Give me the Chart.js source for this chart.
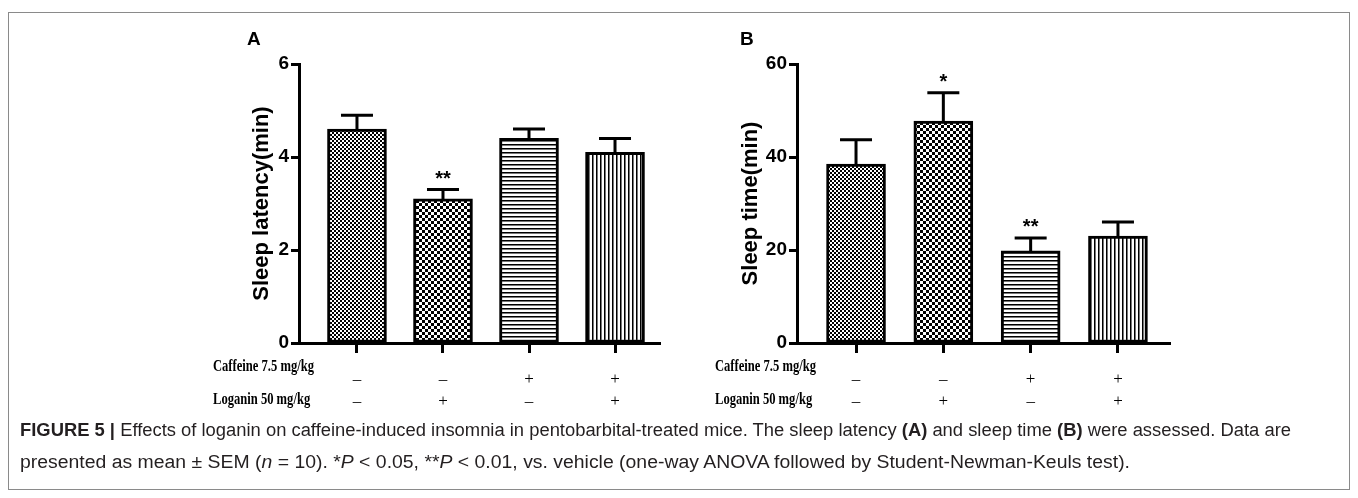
<!DOCTYPE html>
<html>
<head>
<meta charset="utf-8">
<script src="https://cdn.jsdelivr.net/npm/chart.js@4.4.1/dist/chart.umd.min.js"></script>
<style>
  body { margin:0; background:#fff; width:1358px; height:498px; overflow:hidden; position:relative; }
  #frame { position:absolute; left:8px; top:12px; width:1342px; height:478px; border:1px solid #8a8a8a; box-sizing:border-box; }
  canvas { position:absolute; }
  #cA { left:200px; top:20px; }
  #cB { left:698px; top:20px; }
  #caption { position:absolute; left:20px; top:414px; font-family:"Liberation Sans",Arial,sans-serif; font-size:18px; line-height:32px; color:#231f20; white-space:nowrap; }
  #caption span { display:inline-block; transform-origin:0 50%; }
  #caption b { font-weight:bold; }
</style>
</head>
<body>
<div id="frame"></div>
<canvas id="cA" width="470" height="400"></canvas>
<canvas id="cB" width="480" height="400"></canvas>
<div id="caption"><span id="cap1"><b>FIGURE 5 |</b> Effects of loganin on caffeine-induced insomnia in pentobarbital-treated mice. The sleep latency <b>(A)</b> and sleep time <b>(B)</b> were assessed. Data are</span><br><span id="cap2">presented as mean ± SEM (<i>n</i> = 10). *<i>P</i> &lt; 0.05, **<i>P</i> &lt; 0.01, vs. vehicle (one-way ANOVA followed by Student-Newman-Keuls test).</span></div>
<script>
// groups: vehicle, loganin, caffeine, caffeine + loganin
let groups = ["Vehicle","Loganin","Caffeine","Caffeine+Loganin"];
let caffeineRow = ["–","–","+","+"];
let loganinRow  = ["–","+","–","+"];

let latencyMean = [4.6, 3.1, 4.4, 4.1];
let latencySem  = [0.3, 0.2, 0.2, 0.3];
let latencyStars = ["", "**", "", ""];
let latencyTicks = [0, 2, 4, 6];

let sleepMean = [38.5, 47.7, 19.8, 23.0];
let sleepSem  = [5.2, 6.1, 2.8, 3.0];
let sleepStars = ["", "*", "**", ""];
let sleepTicks = [0, 20, 40, 60];

// condensed caption font: squeeze each line to its width in the figure
function squeeze(id, w){
  let el = document.getElementById(id);
  el.style.transform = "scaleX(" + (w / el.getBoundingClientRect().width) + ")";
}
squeeze("cap1", 1271);
squeeze("cap2", 1110);

function makePattern(size, draw){
  let c = document.createElement("canvas");
  c.width = size; c.height = size;
  let g = c.getContext("2d");
  g.fillStyle = "#fff"; g.fillRect(0,0,size,size);
  g.fillStyle = "#000";
  draw(g, size);
  return document.createElement("canvas").getContext("2d").createPattern(c, "repeat");
}

let fills = [
  makePattern(4, (g)=>{ g.fillRect(0,0,2,2); g.fillRect(2,2,2,2); }),
  makePattern(6, (g)=>{ g.fillRect(0,0,3,3); g.fillRect(3,3,3,3); }),
  makePattern(4, (g)=>{ g.fillRect(0,0,4,1); g.fillStyle="#777"; g.fillRect(0,1,4,1); }),
  makePattern(4, (g)=>{ g.fillRect(0,0,1,4); g.fillStyle="#777"; g.fillRect(1,0,1,4); })
];

function extrasPlugin(p){
  return {
    id: "extras",
    afterDatasetsDraw(chart){
      let ctx = chart.ctx, xs = chart.scales.x, ys = chart.scales.y, a = chart.chartArea;
      ctx.save();
      // error bars
      ctx.strokeStyle = "#000"; ctx.lineWidth = 3; ctx.lineCap = "butt";
      p.mean.forEach((m,i)=>{
        let x = xs.getPixelForValue(i);
        let y0 = ys.getPixelForValue(m) + 2;
        let y1 = ys.getPixelForValue(m + p.sem[i]);
        ctx.beginPath();
        ctx.moveTo(x, y0); ctx.lineTo(x, y1);
        ctx.moveTo(x-16, y1); ctx.lineTo(x+16, y1);
        ctx.stroke();
        if(p.stars[i]){
          ctx.fillStyle = "#000";
          ctx.font = "bold 20px 'Liberation Sans', Arial, sans-serif";
          ctx.textAlign = "center"; ctx.textBaseline = "alphabetic";
          ctx.fillText(p.stars[i], x, y1 - 5);
        }
      });
      // panel letter
      ctx.fillStyle = "#000";
      ctx.font = "bold 19px 'Liberation Sans', Arial, sans-serif";
      ctx.textAlign = "left"; ctx.textBaseline = "alphabetic";
      ctx.fillText(p.letter, p.letterX, 25);
      // y axis title
      ctx.save();
      ctx.translate(p.titleX, (a.top + a.bottom)/2);
      ctx.rotate(-Math.PI/2);
      ctx.font = "bold 22px 'Liberation Sans', Arial, sans-serif";
      ctx.textAlign = "center"; ctx.textBaseline = "middle";
      ctx.fillText(p.title, 0, 0);
      ctx.restore();
      // treatment rows
      ctx.font = "bold 17px 'Liberation Serif', 'Times New Roman', serif";
      ctx.textAlign = "left"; ctx.textBaseline = "alphabetic";
      [["Caffeine 7.5 mg/kg", 351], ["Loganin 50 mg/kg", 384]].forEach(r=>{
        ctx.save();
        ctx.translate(p.labelX, r[1]);
        ctx.scale(0.74, 1);
        ctx.fillText(r[0], 0, 0);
        ctx.restore();
      });
      ctx.font = "17px 'Liberation Serif', 'Times New Roman', serif";
      ctx.textAlign = "center"; ctx.textBaseline = "middle";
      groups.forEach((gname,i)=>{
        let x = xs.getPixelForValue(i);
        ctx.fillText(caffeineRow[i], x, 360);
        ctx.fillText(loganinRow[i], x, 382);
      });
      ctx.restore();
    }
  };
}

function makeChart(id, p){
  return new Chart(document.getElementById(id), {
    type: "bar",
    data: {
      labels: groups,
      datasets: [{
        data: p.mean.map((v,i)=>({x:i, y:v})),
        backgroundColor: fills,
        borderColor: "#000",
        borderWidth: 3,
        borderSkipped: false,
        barThickness: 59
      }]
    },
    options: {
      responsive: false,
      animation: false,
      layout: { padding: { top: 44, right: p.padRight, left: 0, bottom: 0 } },
      plugins: { legend: { display: false }, tooltip: { enabled: false } },
      scales: {
        x: {
          type: "linear",
          offset: false,
          min: p.xmin, max: p.xmax,
          afterBuildTicks: (s)=>{ s.ticks = groups.map((g,i)=>({value:i})); },
          afterFit: (s)=>{ s.height = 77; },
          ticks: { callback: ()=>"" },
          grid: { offset: false, drawOnChartArea: false, drawTicks: true, tickLength: 10, tickWidth: 3, tickColor: "#000" },
          border: { display: true, width: 3, color: "#000" }
        },
        y: {
          min: 0, max: p.ticks[p.ticks.length-1],
          afterBuildTicks: (s)=>{ s.ticks = p.ticks.map(v=>({value:v})); },
          afterFit: (s)=>{ s.width = 99; },
          ticks: { color: "#000", padding: 2, font: { family: "'Liberation Sans', Arial, sans-serif", size: 19, weight: "bold" } },
          grid: { drawOnChartArea: false, drawTicks: true, tickLength: 8, tickWidth: 3, tickColor: "#000" },
          border: { display: true, width: 3, color: "#000" }
        }
      }
    },
    plugins: [extrasPlugin(p)]
  });
}

makeChart("cA", {
  mean: latencyMean, sem: latencySem, stars: latencyStars, ticks: latencyTicks,
  xmin: -0.674, xmax: 3.523, padRight: 10,
  letter: "A", letterX: 47, title: "Sleep latency(min)", titleX: 62, labelX: 13
});
makeChart("cB", {
  mean: sleepMean, sem: sleepSem, stars: sleepStars, ticks: sleepTicks,
  xmin: -0.676, xmax: 3.596, padRight: 8,
  letter: "B", letterX: 42, title: "Sleep time(min)", titleX: 53, labelX: 17
});
</script>
</body>
</html>
